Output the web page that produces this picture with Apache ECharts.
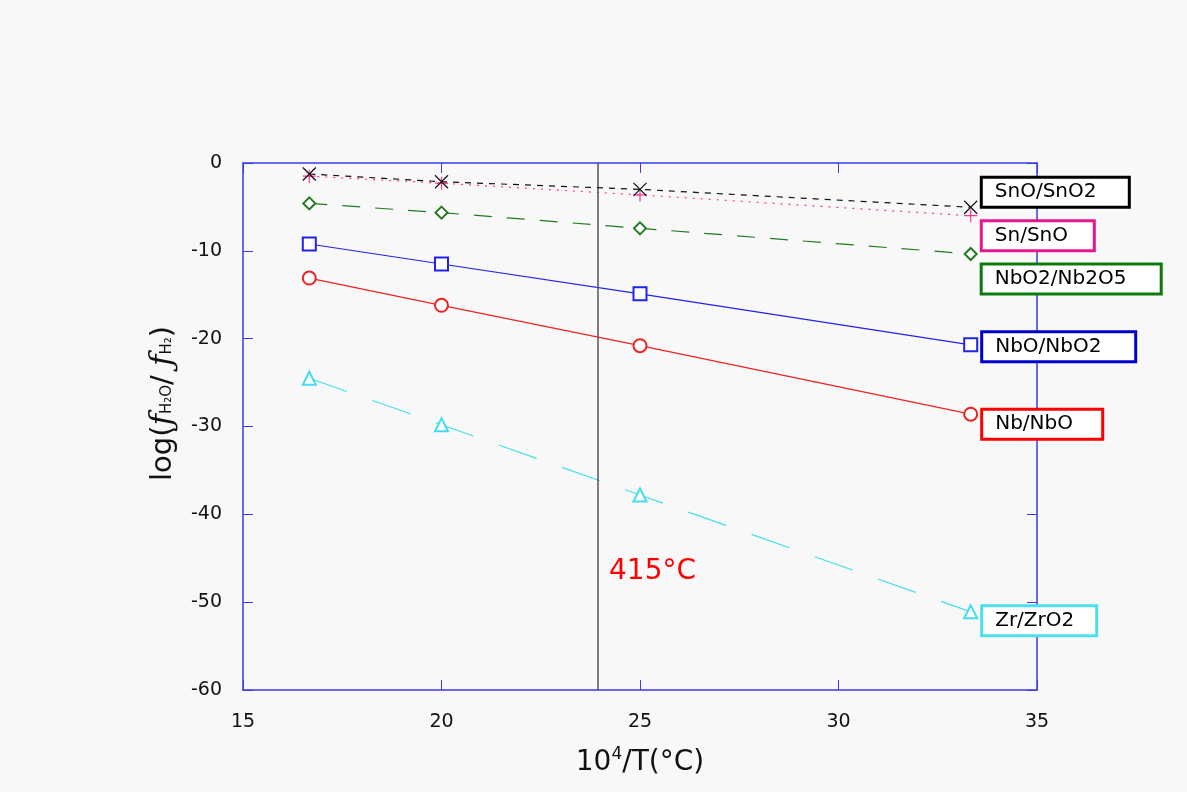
<!DOCTYPE html>
<html>
<head>
<meta charset="utf-8">
<script src="https://cdn.jsdelivr.net/npm/echarts@6/dist/echarts.min.js"></script>
<style>
  html, body { margin: 0; padding: 0; background: #f8f8f8; }
  #main { width: 1187px; height: 792px; }
</style>
</head>
<body>
<div id="main"></div>
<script>
// 10^4/T values (same for every couple)
var xVals = [16.67, 20, 25, 33.33];

// log(fH2O/fH2)
var snoSno2 = [-1.25, -2.13, -3.0, -5.04];
var snSno = [-1.5, -2.3, -3.64, -6.0];
var nbo2Nb2o5 = [-4.6, -5.65, -7.44, -10.36];
var nboNbo2 = [-9.22, -11.5, -14.9, -20.7];
var nbNbo = [-13.1, -16.2, -20.8, -28.6];
var zrZro2 = [-24.5, -29.8, -37.8, -51.1];

var names = ['SnO/SnO2', 'Sn/SnO', 'NbO2/Nb2O5', 'NbO/NbO2', 'Nb/NbO', 'Zr/ZrO2'];
var xTicks = [15, 20, 25, 30, 35];
var yTicks = [0, -10, -20, -30, -40, -50, -60];
var tempLine = 23.93; // 415°C

var myChart = echarts.init(document.getElementById('main'));

var crossPath = 'path://M0,0L10,10M10,0L0,10';
var plusPath = 'path://M5,0L5,10M0,5L10,5';

function makeSeries(name, vals, opt) {
    var data = [];
    for (var i = 0; i < xVals.length; i++) {
        data.push([xVals[i], vals[i]]);
    }
    var last = data.length - 1;
    data[last] = {
        value: data[last],
        label: {
            show: true,
            position: 'right',
            distance: 5,
            offset: [0, opt.dy],
            formatter: name,
            color: '#000',
            fontFamily: 'DejaVu Sans',
            fontSize: 20,
            backgroundColor: '#fff',
            borderColor: opt.box,
            borderWidth: 3,
            padding: [4, 10, 3, 12],
            width: opt.w,
            align: 'left'
        }
    };
    return {
        name: name,
        type: 'line',
        data: data,
        symbol: opt.symbol,
        symbolSize: opt.size || 13,
        showSymbol: true,
        lineStyle: { color: opt.color, width: 1.2, type: opt.dash },
        itemStyle: { color: opt.color, borderColor: opt.color, borderWidth: 1.2 },
        emphasis: { disabled: true },
        animation: false,
        z: opt.z || 3
    };
}

var series = [
    makeSeries(names[0], snoSno2, { color: '#111', box: '#000', symbol: crossPath, size: 13, dash: [6, 6], dy: -15, w: 123, z: 5 }),
    makeSeries(names[1], snSno, { color: '#ff3399', box: '#e8168c', symbol: plusPath, size: 13, dash: [2, 6], dy: 20, w: 88 }),
    makeSeries(names[2], nbo2Nb2o5, { color: '#227a22', box: '#0a7a0a', symbol: 'emptyDiamond', size: 12, dash: [18, 15], dy: 25, w: 155 }),
    makeSeries(names[3], nboNbo2, { color: '#2222ee', box: '#0000cc', symbol: 'emptyRect', size: 13, dash: 'solid', dy: 2, w: 129 }),
    makeSeries(names[4], nbNbo, { color: '#ee2222', box: '#ff0000', symbol: 'emptyCircle', size: 13, dash: 'solid', dy: 10, w: 96 }),
    makeSeries(names[5], zrZro2, { color: '#44ddee', box: '#4ae0f0', symbol: 'emptyTriangle', size: 13, dash: [40, 27], dy: 9, w: 90 })
];

// vertical line at 415°C
series[0].markLine = {
    silent: true,
    symbol: 'none',
    animation: false,
    label: { show: false },
    lineStyle: { color: '#555', width: 1.5, type: 'solid' },
    data: [{ xAxis: tempLine }]
};

var axisBlue = '#3a3ae8';

option = {
    backgroundColor: '#f8f8f8',
    animation: false,
    grid: { left: 243, right: 150, top: 163, bottom: 102 },
    xAxis: [{
        type: 'value',
        min: xTicks[0],
        max: xTicks[xTicks.length - 1],
        interval: 5,
        name: '10{sup|4}/T(°C)',
        nameLocation: 'middle',
        nameGap: 56,
        nameTextStyle: {
            fontFamily: 'DejaVu Sans',
            fontSize: 28,
            color: '#111',
            rich: {
                sup: { fontSize: 17, fontFamily: 'DejaVu Sans', color: '#111', padding: [0, 0, 16, 0] }
            }
        },
        axisLine: { onZero: false, lineStyle: { color: axisBlue, width: 1.5 } },
        axisTick: { inside: true, length: 10, lineStyle: { color: axisBlue } },
        axisLabel: { margin: 23, fontFamily: 'DejaVu Sans', fontSize: 19, color: '#111' },
        splitLine: { show: false }
    }, {
        type: 'value',
        position: 'top',
        min: xTicks[0],
        max: xTicks[xTicks.length - 1],
        interval: 5,
        axisLine: { onZero: false, lineStyle: { color: axisBlue, width: 1.5 } },
        axisTick: { inside: true, length: 10, lineStyle: { color: axisBlue } },
        axisLabel: { show: false },
        splitLine: { show: false }
    }],
    yAxis: [{
        type: 'value',
        min: yTicks[yTicks.length - 1],
        max: yTicks[0],
        interval: 10,
        name: 'log({f|ƒ}{sub|H₂O}/ {f|ƒ}{sub|H₂})',
        nameLocation: 'middle',
        nameGap: 64,
        nameRotate: 90,
        nameTextStyle: {
            fontFamily: 'DejaVu Sans',
            fontSize: 29,
            color: '#111',
            padding: [0, 0, 0, 46],
            rich: {
                f: { fontFamily: 'DejaVu Serif', fontStyle: 'italic', fontSize: 31, color: '#111' },
                sub: { fontFamily: 'DejaVu Sans', fontSize: 15, color: '#111', padding: [8, 0, 0, 0] }
            }
        },
        axisLine: { onZero: false, lineStyle: { color: axisBlue, width: 1.5 } },
        axisTick: { inside: true, length: 10, lineStyle: { color: axisBlue } },
        axisLabel: { margin: 21, fontFamily: 'DejaVu Sans', fontSize: 19, color: '#111' },
        splitLine: { show: false }
    }, {
        type: 'value',
        position: 'right',
        min: yTicks[yTicks.length - 1],
        max: yTicks[0],
        interval: 10,
        axisLine: { onZero: false, lineStyle: { color: axisBlue, width: 1.5 } },
        axisTick: { inside: true, length: 10, lineStyle: { color: axisBlue } },
        axisLabel: { show: false },
        splitLine: { show: false }
    }],
    graphic: [{
        type: 'text',
        left: 609,
        top: 558,
        style: {
            text: '415°C',
            fill: '#ff0000',
            fontFamily: 'DejaVu Sans',
            fontSize: 28
        }
    }],
    series: series
};

myChart.setOption(option);
</script>
</body>
</html>
